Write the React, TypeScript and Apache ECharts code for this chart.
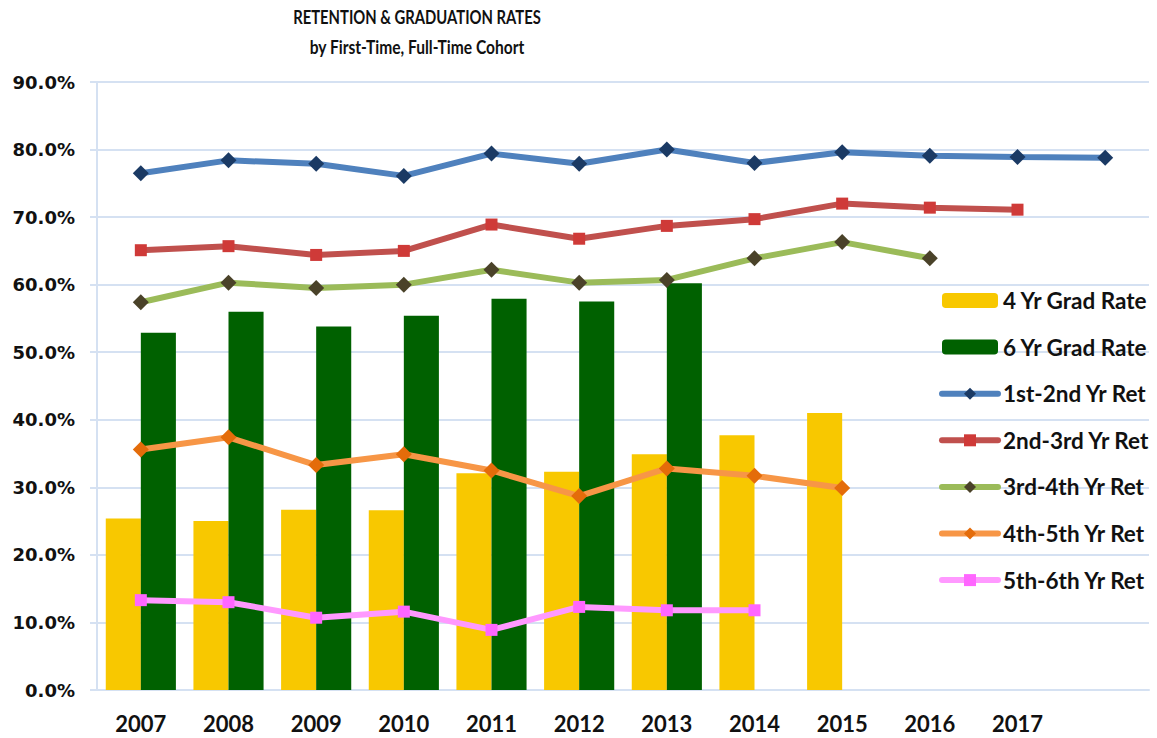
import React, { useEffect, useRef } from "react";
import * as echarts from "echarts";

const categories = ["2007", "2008", "2009", "2010", "2011", "2012", "2013", "2014", "2015", "2016", "2017", ""];
const yTicks = [0, 10, 20, 30, 40, 50, 60, 70, 80, 90];

const grad4 = [25.4, 25.0, 26.7, 26.6, 32.1, 32.3, 34.9, 37.7, 41.0, null, null, null];
const grad6 = [52.9, 56.0, 53.8, 55.4, 57.9, 57.5, 60.2, null, null, null, null, null];
const ret12 = [76.5, 78.4, 77.9, 76.1, 79.4, 77.9, 80.0, 78.0, 79.6, 79.1, 78.9, 78.8];
const ret23 = [65.1, 65.7, 64.4, 65.0, 68.9, 66.8, 68.7, 69.7, 72.0, 71.4, 71.1, null];
const ret34 = [57.4, 60.3, 59.5, 60.0, 62.2, 60.3, 60.7, 63.9, 66.3, 63.9, null, null];
const ret45 = [35.6, 37.4, 33.3, 34.9, 32.5, 28.7, 32.8, 31.7, 29.9, null, null, null];
const ret56 = [13.3, 13.0, 10.7, 11.6, 8.9, 12.3, 11.8, 11.8, null, null, null, null];

const titleLines = ["RETENTION & GRADUATION RATES", "by First-Time, Full-Time Cohort"];

export default function App() {
  const ref = useRef<HTMLDivElement>(null);
  useEffect(() => {
    document.body.style.margin = "0";
    if (!ref.current) return;
    const chart = echarts.init(ref.current, undefined, { renderer: "svg" });
    const lineSeries = (
      name: string,
      data: (number | null)[],
      lineColor: string,
      markColor: string,
      symbol: string,
      size: number
    ) => ({
      name,
      type: "line",
      data,
      symbol,
      symbolSize: size,
      showAllSymbol: true,
      z: 5,
      lineStyle: { color: lineColor, width: 6, cap: "round" },
      itemStyle: { color: markColor, borderWidth: 0 },
      emphasis: { disabled: true },
    });
    const titleStyle = {
      align: "center",
      verticalAlign: "middle",
      fontFamily: "Lato, sans-serif",
      fontWeight: "bold",
      fontSize: 19,
      fill: "#111111",
    };
    chart.setOption({
      animation: false,
      backgroundColor: "#ffffff",
      textStyle: { fontFamily: "Lato, 'Open Sans', sans-serif" },
      graphic: [
        { type: "text", x: 417, y: 17, scaleX: 0.78, style: { ...titleStyle, text: titleLines[0] } },
        { type: "text", x: 417, y: 47, scaleX: 0.82, style: { ...titleStyle, text: titleLines[1] } },
      ],
      grid: { left: 97, right: 8, top: 82, bottom: 48, containLabel: false },
      legend: {
        orient: "vertical",
        left: 934,
        top: 284,
        itemWidth: 56,
        itemHeight: 15,
        itemGap: 23.6,
        lineStyle: { width: 6, cap: "round" },
        textStyle: {
          fontFamily: "Lato, sans-serif",
          fontWeight: "bold",
          fontSize: 22.5,
          color: "#111111",
          lineHeight: 23,
        },
        data: [
          "4 Yr Grad Rate",
          "6 Yr Grad Rate",
          "1st-2nd Yr Ret",
          "2nd-3rd Yr Ret",
          "3rd-4th Yr Ret",
          "4th-5th Yr Ret",
          "5th-6th Yr Ret",
        ],
      },
      xAxis: {
        type: "category",
        data: categories,
        boundaryGap: true,
        axisLine: { lineStyle: { color: "#d5e1f2", width: 2 } },
        axisTick: { show: false },
        axisLabel: {
          margin: 22,
          fontFamily: "Lato, sans-serif",
          fontWeight: "bold",
          fontSize: 22,
          color: "#111111",
          interval: 0,
        },
        splitLine: { show: false },
      },
      yAxis: {
        type: "value",
        min: yTicks[0],
        max: yTicks[yTicks.length - 1],
        interval: 10,
        axisLine: { show: true, lineStyle: { color: "#d5e1f2", width: 2 } },
        axisTick: { show: true, inside: false, length: 7, lineStyle: { color: "#d5e1f2", width: 2 } },
        splitLine: { lineStyle: { color: "#d5e1f2", width: 2 } },
        axisLabel: {
          margin: 22,
          fontFamily: "'DejaVu Sans', Verdana, sans-serif",
          fontWeight: "bold",
          fontSize: 18,
          color: "#111111",
          formatter: (v: number) => v.toFixed(1) + "%",
        },
      },
      series: [
        {
          name: "4 Yr Grad Rate",
          type: "bar",
          data: grad4,
          barGap: "0%",
          barCategoryGap: "20%",
          itemStyle: { color: "#f8c800" },
          emphasis: { disabled: true },
          z: 2,
        },
        {
          name: "6 Yr Grad Rate",
          type: "bar",
          data: grad6,
          barGap: "0%",
          barCategoryGap: "20%",
          itemStyle: { color: "#006100" },
          emphasis: { disabled: true },
          z: 2,
        },
        lineSeries("1st-2nd Yr Ret", ret12, "#4f81bd", "#1b3a64", "diamond", 16),
        lineSeries("2nd-3rd Yr Ret", ret23, "#c0504d", "#cf3a38", "rect", 12),
        lineSeries("3rd-4th Yr Ret", ret34, "#9bbb59", "#4a4229", "diamond", 16),
        lineSeries("4th-5th Yr Ret", ret45, "#f79646", "#e46c0a", "diamond", 16),
        lineSeries("5th-6th Yr Ret", ret56, "#ff99ff", "#ff66ff", "rect", 12),
      ],
    });
    return () => chart.dispose();
  }, []);
  return <div ref={ref} style={{ width: 1157, height: 738 }} />;
}
